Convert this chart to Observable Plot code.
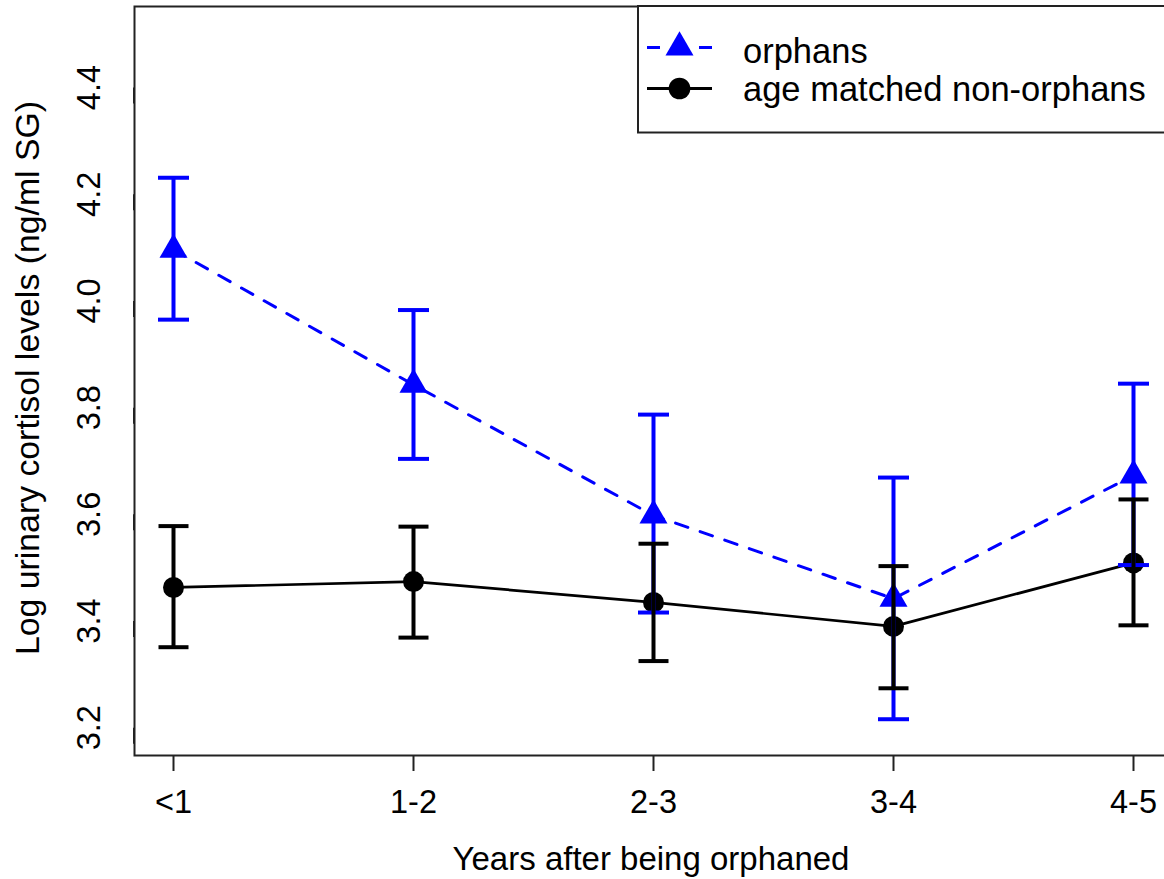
<!DOCTYPE html>
<html>
<head>
<meta charset="utf-8">
<script src="https://cdn.jsdelivr.net/npm/d3@7"></script>
<script src="https://cdn.jsdelivr.net/npm/@observablehq/plot@0.6"></script>
<style>
  html, body { margin: 0; padding: 0; background: #fff; overflow: hidden; }
  #chart svg { display: block; overflow: hidden; }
</style>
</head>
<body>
<div id="chart"></div>
<script>
// ---- data ----
const categories = ["<1", "1-2", "2-3", "3-4", "4-5"];
const seriesNames = ["orphans", "age matched non-orphans"];
const orphanMean = [4.096, 3.843, 3.598, 3.442, 3.673];
const orphanLow  = [3.965, 3.704, 3.416, 3.216, 3.505];
const orphanHigh = [4.231, 3.983, 3.787, 3.669, 3.845];
const nonMean = [3.463, 3.474, 3.435, 3.390, 3.509];
const nonLow  = [3.351, 3.369, 3.325, 3.274, 3.392];
const nonHigh = [3.578, 3.577, 3.545, 3.503, 3.628];
const yTicks = [3.2, 3.4, 3.6, 3.8, 4.0, 4.2, 4.4];
const xTitle = "Years after being orphaned";
const yTitle = "Log urinary cortisol levels (ng/ml SG)";

const orph = categories.map((c, i) => ({cat: c, mean: orphanMean[i], lo: orphanLow[i], hi: orphanHigh[i]}));
const non = categories.map((c, i) => ({cat: c, mean: nonMean[i], lo: nonLow[i], hi: nonHigh[i]}));

const BLUE = "#0000FF";
const FONT = "'Liberation Sans', Arial, sans-serif";

// horizontal cap symbol for error bars
const capSymbol = (half) => ({draw(ctx) { ctx.moveTo(-half, 0); ctx.lineTo(half, 0); }});

const svg = Plot.plot({
  width: 1164,
  height: 879,
  marginLeft: 134,
  marginRight: -8,
  marginTop: 6,
  marginBottom: 124,
  style: {fontFamily: FONT, fontSize: "32.5px", color: "#000", background: "#fff"},
  x: {type: "point", domain: categories, padding: 0.16},
  y: {domain: [3.148, 4.552]},
  marks: [
    Plot.frame({stroke: "#222", strokeWidth: 2}),
    Plot.axisX({ticks: categories, tickSize: 16, tickPadding: 18, label: null, stroke: "#222", strokeWidth: 2, fill: "#000"}),
    Plot.axisY({ticks: yTicks, tickSize: 16, tickPadding: 19, tickFormat: d => d.toFixed(1), rotate: -90, textAnchor: "middle", lineAnchor: "bottom", label: null, stroke: "#222", strokeWidth: 2, fill: "#000"}),
    // non-orphans line + points
    Plot.line(non, {x: "cat", y: "mean", stroke: "#000", strokeWidth: 2.7}),
    Plot.dot(non, {x: "cat", y: "mean", r: 10.5, fill: "#000", symbol: "circle"}),
    // orphans line + points
    Plot.line(orph, {x: "cat", y: "mean", stroke: BLUE, strokeWidth: 3, strokeDasharray: "13,13"}),
    Plot.dot(orph, {x: "cat", y: "mean", r: 10.4, fill: BLUE, symbol: "triangle"}),
    // orphans error bars
    Plot.ruleX(orph, {x: "cat", y1: "lo", y2: "hi", stroke: BLUE, strokeWidth: 4}),
    Plot.dot(orph, {x: "cat", y: "hi", symbol: capSymbol(15.5), fill: "none", stroke: BLUE, strokeWidth: 4}),
    Plot.dot(orph, {x: "cat", y: "lo", symbol: capSymbol(15.5), fill: "none", stroke: BLUE, strokeWidth: 4}),
    // non-orphans error bars
    Plot.ruleX(non, {x: "cat", y1: "lo", y2: "hi", stroke: "#000", strokeWidth: 4}),
    Plot.dot(non, {x: "cat", y: "hi", symbol: capSymbol(15), fill: "none", stroke: "#000", strokeWidth: 4}),
    Plot.dot(non, {x: "cat", y: "lo", symbol: capSymbol(15), fill: "none", stroke: "#000", strokeWidth: 4})
  ]
});

const s = d3.select(svg);

// axis titles
s.append("text")
  .attr("x", 651).attr("y", 870)
  .attr("text-anchor", "middle")
  .style("font-family", FONT).style("font-size", "33px").attr("fill", "#000")
  .text(xTitle);
s.append("text")
  .attr("transform", "translate(39,378) rotate(-90)")
  .attr("text-anchor", "middle")
  .style("font-family", FONT).style("font-size", "33.8px").attr("fill", "#000")
  .text(yTitle);

// legend
const lg = s.append("g");
lg.append("rect").attr("x", 638).attr("y", 6).attr("width", 560).attr("height", 126.5)
  .attr("fill", "#fff").attr("stroke", "#222").attr("stroke-width", 2);
lg.append("line").attr("x1", 647).attr("x2", 712).attr("y1", 47.5).attr("y2", 47.5)
  .attr("stroke", BLUE).attr("stroke-width", 3).attr("stroke-dasharray", "13,13");
lg.append("path").attr("transform", "translate(679.5,47.5)")
  .attr("d", d3.symbol(d3.symbolTriangle, Math.PI * 10.4 * 10.4)()).attr("fill", BLUE);
lg.append("line").attr("x1", 647).attr("x2", 712).attr("y1", 88.5).attr("y2", 88.5)
  .attr("stroke", "#000").attr("stroke-width", 3);
lg.append("circle").attr("cx", 679.5).attr("cy", 88.5).attr("r", 10.8).attr("fill", "#000");
seriesNames.forEach((name, i) => {
  lg.append("text").attr("x", 743).attr("y", i === 0 ? 63.3 : 100.7)
    .attr("text-anchor", "start")
    .style("font-family", FONT).style("font-size", "34.5px").attr("fill", "#000")
    .text(name);
});

document.getElementById("chart").appendChild(svg);
</script>
</body>
</html>
